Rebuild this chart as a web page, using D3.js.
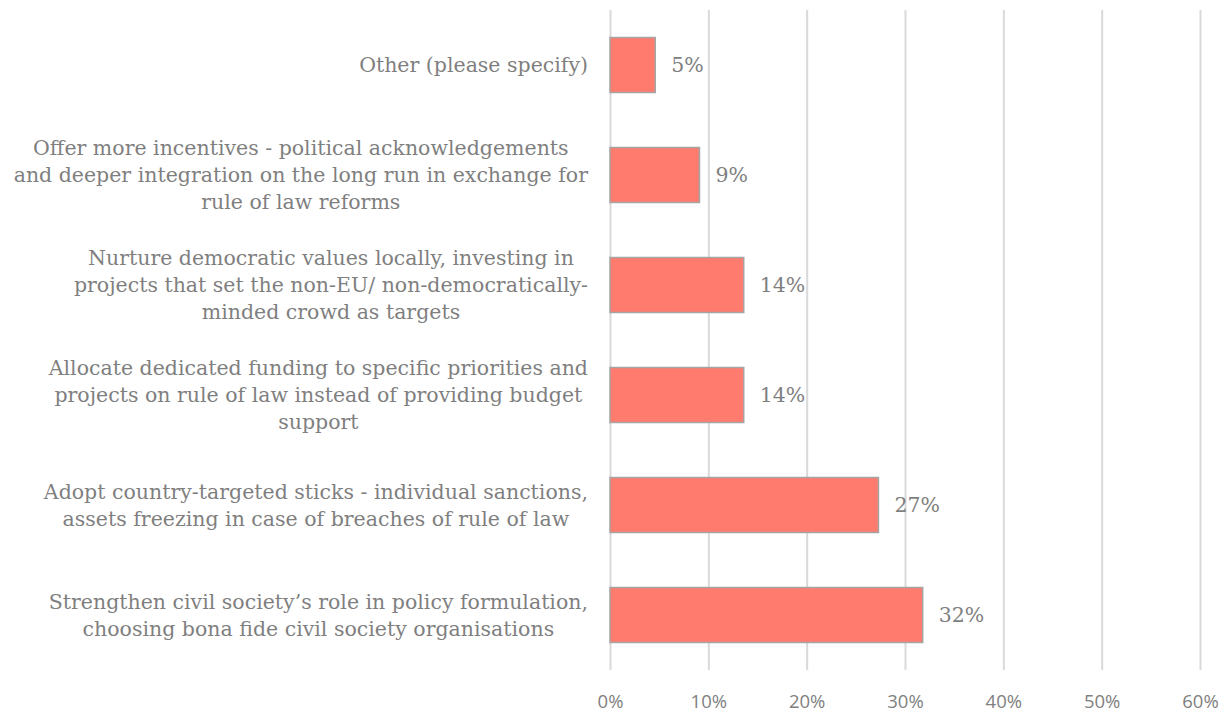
<!DOCTYPE html>
<html>
<head>
<meta charset="utf-8">
<script src="https://cdn.jsdelivr.net/npm/d3@7"></script>
<style>
  html, body { margin: 0; padding: 0; background: #fff; }
  svg { display: block; }
</style>
</head>
<body>
<svg id="chart" width="1231" height="713"></svg>
<script>
// Survey answers, listed top to bottom; "\n" marks a line break in the label
const categories = [
  "Other (please specify)",
  "Offer more incentives - political acknowledgements\nand deeper integration on the long run in exchange for\nrule of law reforms",
  "Nurture democratic values locally, investing in\nprojects that set the non-EU/ non-democratically-\nminded crowd as targets",
  "Allocate dedicated funding to specific priorities and\nprojects on rule of law instead of providing budget\nsupport",
  "Adopt country-targeted sticks - individual sanctions,\nassets freezing in case of breaches of rule of law",
  "Strengthen civil society\u2019s role in policy formulation,\nchoosing bona fide civil society organisations"
];
// Share of respondents for each answer
const shares = [0.046, 0.091, 0.136, 0.136, 0.273, 0.318];
// Axis ticks
const tickValues = [0, 0.1, 0.2, 0.3, 0.4, 0.5, 0.6];

const svg = d3.select("#chart");
const plot = { left: 610, right: 1200, top: 10, bottom: 670 };

const x = d3.scaleLinear().domain([0, 0.6]).range([plot.left, plot.right]);
const y = d3.scaleBand().domain(d3.range(categories.length))
  .range([plot.top, plot.bottom]).paddingInner(0.5).paddingOuter(0.25);

const serif = "'DejaVu Serif', Georgia, serif";
const sans = "'Open Sans', 'Liberation Sans', sans-serif";
const textGrey = "#7f7f7f";

// Vertical gridlines and tick labels
const axis = d3.axisBottom(x).tickValues(tickValues).tickFormat(d3.format(".0%"))
  .tickSize(-(plot.bottom - plot.top)).tickPadding(25);
const gx = svg.append("g").attr("transform", `translate(0,${plot.bottom})`).call(axis);
gx.select(".domain").remove();
gx.selectAll(".tick line").attr("stroke", "#d9d9d9").attr("stroke-width", 2);
gx.selectAll(".tick text").attr("fill", textGrey)
  .style("font-family", sans).style("font-size", "18.5px");

// Bars
svg.append("g").selectAll("rect").data(shares).join("rect")
  .attr("x", x(0))
  .attr("y", (d, i) => y(i))
  .attr("width", d => x(d) - x(0))
  .attr("height", y.bandwidth())
  .attr("fill", "#ff7b6e")
  .attr("stroke", "#a5a5a5")
  .attr("stroke-width", 1.5);

// Value labels
svg.append("g").selectAll("text").data(shares).join("text")
  .attr("x", d => x(d) + 16)
  .attr("y", (d, i) => y(i) + y.bandwidth() / 2)
  .attr("dy", "0.35em")
  .attr("fill", textGrey)
  .style("font-family", serif)
  .style("font-size", "20.5px")
  .text(d => d3.format(".0%")(d));

// Category labels: block right-aligned to the axis, lines centred within the block
const labelRight = 588;
const lineHeight = 27;
const catG = svg.append("g")
  .style("font-family", serif).style("font-size", "20.5px").attr("fill", textGrey);
categories.forEach((label, i) => {
  const lines = label.split("\n");
  const cy = y(i) + y.bandwidth() / 2;
  const t = catG.append("text").attr("text-anchor", "middle");
  const spans = lines.map((ln, k) => t.append("tspan")
    .attr("y", cy + (k - (lines.length - 1) / 2) * lineHeight)
    .attr("dy", "0.35em")
    .text(ln));
  const maxW = d3.max(spans, s => s.node().getComputedTextLength());
  spans.forEach(s => s.attr("x", labelRight - maxW / 2));
});
</script>
</body>
</html>
